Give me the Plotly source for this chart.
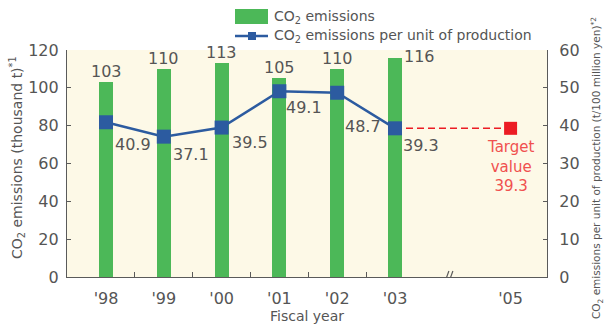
import plotly.graph_objects as go

# ---- data -------------------------------------------------------------
years = ["'98", "'99", "'00", "'01", "'02", "'03"]
emissions = [103, 110, 113, 105, 110, 116]          # thousand t
intensity = [40.9, 37.1, 39.5, 49.1, 48.7, 39.3]    # t / 100 million yen
target_year = "'05"
target_value = 39.3
emission_ticks = [0, 20, 40, 60, 80, 100, 120]
intensity_ticks = [0, 10, 20, 30, 40, 50, 60]

# ---- styling ----------------------------------------------------------
W, H = 604, 324
ML, MR, MT, MB = 67, 57, 50, 47
PW, PH = W - ML - MR, H - MT - MB

FONT = "DejaVu Sans"
TXT = "#555555"
AXIS = "#5a5a5a"
GREEN = "#4cb858"
BLUE = "#2c5ba0"
RED = "#ec1c24"
RED_TXT = "#f0504f"
BG = "#fdf9e7"

xs = list(range(len(years)))
target_x = len(years) + 1          # one slot left empty for the axis break
break_x = len(years)


def pxx(p):
    return (p - ML) / PW


def pxy(p):
    return (H - MB - p) / PH


fig = go.Figure()

fig.add_trace(go.Bar(
    x=xs, y=emissions, width=0.243, marker=dict(color=GREEN, line_width=0),
    yaxis="y", showlegend=False, hoverinfo="skip",
))

# dashed path from the latest year to the target
fig.add_trace(go.Scatter(
    x=[xs[-1], target_x], y=[intensity[-1], target_value], yaxis="y2",
    mode="lines", line=dict(color=RED, width=1.6, dash="7px,4px"),
    showlegend=False, hoverinfo="skip",
))
fig.add_trace(go.Scatter(
    x=[target_x], y=[target_value], yaxis="y2", mode="markers",
    marker=dict(symbol="square", size=13, color=RED),
    showlegend=False, hoverinfo="skip",
))
fig.add_trace(go.Scatter(
    x=xs, y=intensity, yaxis="y2", mode="lines+markers",
    line=dict(color=BLUE, width=2.5),
    marker=dict(symbol="square", size=14, color=BLUE),
    showlegend=False, hoverinfo="skip",
))

ann = []
# bar value labels (the last one sits beside the bar top)
for i, v in enumerate(emissions):
    if i == len(emissions) - 1:
        ann.append(dict(x=i, y=v, xref="x", yref="y", text=str(v),
                        xanchor="left", yanchor="middle", xshift=7, yshift=1,
                        showarrow=False, font=dict(size=16, color=TXT, family=FONT)))
    else:
        ann.append(dict(x=i, y=v, xref="x", yref="y", text=str(v),
                        xanchor="center", yanchor="bottom", yshift=-1,
                        showarrow=False, font=dict(size=16, color=TXT, family=FONT)))

# intensity value labels, placed below-right of each marker
label_dx = [27, 27, 28, 25, 26, 26]
label_dy = [22, 18, 15, 16, 34, 17]
for i, v in enumerate(intensity):
    ann.append(dict(x=i, y=v, xref="x", yref="y2", text=f"{v:.1f}",
                    xanchor="center", yanchor="middle",
                    xshift=label_dx[i], yshift=-label_dy[i],
                    showarrow=False, font=dict(size=16, color=TXT, family=FONT)))

ann.append(dict(x=target_x, y=target_value, xref="x", yref="y2",
                text=f"Target<br>value<br>{target_value}",
                xanchor="center", yanchor="top", yshift=-8,
                showarrow=False, align="center",
                font=dict(size=15, color=RED_TXT, family=FONT)))

# axis titles
ann.append(dict(x=pxx(17), y=pxy(158), xref="paper", yref="paper",
                text="CO<sub>2</sub> emissions (thousand t)<sup>*1</sup>",
                textangle=-90, showarrow=False, xanchor="center", yanchor="middle",
                font=dict(size=14, color=TXT, family=FONT)))
ann.append(dict(x=pxx(597), y=pxy(168), xref="paper", yref="paper",
                text="CO<sub>2</sub> emissions per unit of production (t/100 million yen)<sup>*2</sup>",
                textangle=-90, showarrow=False, xanchor="center", yanchor="middle",
                font=dict(size=10.5, color=TXT, family="Liberation Sans Narrow, " + FONT)))
ann.append(dict(x=pxx(307), y=pxy(316), xref="paper", yref="paper",
                text="Fiscal year", showarrow=False, xanchor="center", yanchor="middle",
                font=dict(size=14, color=TXT, family=FONT)))

# legend
ann.append(dict(x=pxx(272), y=pxy(17), xref="paper", yref="paper",
                text="CO<sub>2</sub> emissions", showarrow=False,
                xanchor="left", yanchor="middle",
                font=dict(size=14, color=TXT, family=FONT)))
ann.append(dict(x=pxx(272), y=pxy(36), xref="paper", yref="paper",
                text="CO<sub>2</sub> emissions per unit of production", showarrow=False,
                xanchor="left", yanchor="middle",
                font=dict(size=14, color=TXT, family=FONT)))

shapes = [
    dict(type="rect", xref="paper", yref="paper",
         x0=pxx(235), x1=pxx(268), y0=pxy(24), y1=pxy(9),
         fillcolor=GREEN, line_width=0),
    dict(type="line", xref="paper", yref="paper",
         x0=pxx(235), x1=pxx(268), y0=pxy(36), y1=pxy(36),
         line=dict(color=BLUE, width=2.5)),
    dict(type="rect", xref="paper", yref="paper",
         x0=pxx(248), x1=pxx(256), y0=pxy(40), y1=pxy(32),
         fillcolor=BLUE, line_width=0),
]
# axis break mark "//"
for off in (-5, -1):
    shapes.append(dict(type="line", xref="x", yref="y",
                       xsizemode="pixel", xanchor=break_x - 0.05, x0=off, x1=off + 4,
                       ysizemode="pixel", yanchor=0, y0=-5, y1=6,
                       line=dict(color=AXIS, width=1.2)))

fig.update_layout(
    width=W, height=H,
    margin=dict(l=ML, r=MR, t=MT, b=MB),
    paper_bgcolor="white", plot_bgcolor=BG,
    font=dict(family=FONT, size=16, color=TXT),
    showlegend=False,
    bargap=0,
    xaxis=dict(
        range=[-0.675, 7.63],
        tickmode="array", tickvals=xs + [target_x], ticktext=years + [target_year],
        ticks="", showline=True, linecolor=AXIS, linewidth=1.2,
        showgrid=False, zeroline=False, ticklabelstandoff=7,
        tickfont=dict(size=16, color=TXT),
        minor=dict(tickmode="array", tickvals=[i + 0.5 for i in xs[:-1]],
                   ticks="inside", ticklen=5, tickcolor=AXIS, tickwidth=1.2,
                   showgrid=False),
    ),
    yaxis=dict(
        range=[0, 120], tickmode="array", tickvals=emission_ticks,
        ticks="inside", ticklen=4, tickcolor=AXIS, tickwidth=1.2,
        showline=True, linecolor=AXIS, linewidth=1.2,
        showgrid=False, zeroline=False, ticklabelstandoff=4,
        tickfont=dict(size=16, color=TXT),
    ),
    yaxis2=dict(
        range=[0, 60], overlaying="y", side="right",
        tickmode="array", tickvals=intensity_ticks,
        ticks="inside", ticklen=4, tickcolor=AXIS, tickwidth=1.2,
        showline=True, linecolor=AXIS, linewidth=1.2,
        showgrid=False, zeroline=False, ticklabelstandoff=8,
        tickfont=dict(size=16, color=TXT),
    ),
    annotations=ann,
    shapes=shapes,
)

fig.write_html("out.html")
